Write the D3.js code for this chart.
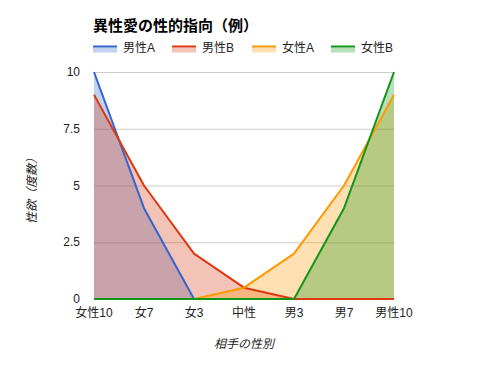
<!DOCTYPE html>
<html>
<head>
<meta charset="utf-8">
<script src="https://cdn.jsdelivr.net/npm/d3@7"></script>
<style>
  body { margin: 0; background: #fff; }
  text { font-family: Arial, "Liberation Sans", "Noto Sans CJK JP", sans-serif; }
</style>
</head>
<body>
<div id="chart-area"></div>
<script>
// data
var categories = ['女性10', '女7', '女3', '中性', '男3', '男7', '男性10'];
var seriesNames = ['男性A', '男性B', '女性A', '女性B'];
var maleA = [10, 4, 0, 0, 0, 0, 0];
var maleB = [9, 5, 2, 0.5, 0, 0, 0];
var femaleA = [0, 0, 0, 0.5, 2, 5, 9];
var femaleB = [0, 0, 0, 0, 0, 4, 10];
var yTicks = [0, 2.5, 5, 7.5, 10];

var colors = ['#3366cc', '#dc3912', '#ff9900', '#109618'];
var allSeries = [maleA, maleB, femaleA, femaleB];

var def = {
    width: 488,
    height: 371,
    left: 94,
    right: 394,
    top: 72,
    bottom: 299
}

var svg = d3.select('#chart-area').append('svg')
    .attr('width', def.width)
    .attr('height', def.height);

var x = d3.scalePoint()
    .domain(categories)
    .range([def.left, def.right]);

var y = d3.scaleLinear()
    .domain([0, 10])
    .range([def.bottom, def.top]);

// gridlines
svg.append('g').selectAll('line')
    .data(yTicks)
    .enter().append('line')
    .attr('x1', def.left).attr('x2', def.right)
    .attr('y1', d => y(d) + 0.5).attr('y2', d => y(d) + 0.5)
    .attr('stroke', '#cccccc').attr('stroke-width', 1);

// y labels
svg.append('g').selectAll('text')
    .data(yTicks)
    .enter().append('text')
    .attr('x', 80)
    .attr('y', d => y(d) + 4)
    .attr('text-anchor', 'end')
    .attr('font-size', '12px')
    .attr('fill', '#222')
    .text(d => d);

// x labels
svg.append('g').selectAll('text')
    .data(categories)
    .enter().append('text')
    .attr('x', d => x(d))
    .attr('y', 317)
    .attr('text-anchor', 'middle')
    .attr('font-size', '12px')
    .attr('fill', '#222')
    .text(d => d);

var area = d3.area()
    .x((d, i) => x(categories[i]))
    .y0(y(0))
    .y1(d => y(d));

var line = d3.line()
    .x((d, i) => x(categories[i]))
    .y(d => y(d));

// areas then lines
svg.append('g').selectAll('path')
    .data(allSeries)
    .enter().append('path')
    .attr('d', area)
    .attr('fill', (d, i) => colors[i])
    .attr('fill-opacity', 0.3);

svg.append('g').selectAll('path')
    .data(allSeries)
    .enter().append('path')
    .attr('d', line)
    .attr('fill', 'none')
    .attr('stroke', (d, i) => colors[i])
    .attr('stroke-width', 2)
    .attr('stroke-linejoin', 'round');

// title
svg.append('text')
    .attr('x', 93)
    .attr('y', 31)
    .attr('font-size', '15px')
    .attr('font-weight', 'bold')
    .attr('fill', '#000')
    .text('異性愛の性的指向（例）');

// legend
var legX = [93, 172, 252, 331];
var leg = svg.append('g').selectAll('g')
    .data(seriesNames)
    .enter().append('g')
    .attr('transform', (d, i) => 'translate(' + legX[i] + ',0)');
leg.append('rect')
    .attr('x', 0).attr('y', 47.5).attr('width', 24).attr('height', 5)
    .attr('fill', (d, i) => colors[i]).attr('fill-opacity', 0.3);
leg.append('rect')
    .attr('x', 0).attr('y', 45.5).attr('width', 24).attr('height', 2)
    .attr('fill', (d, i) => colors[i]);
leg.append('text')
    .attr('x', 30).attr('y', 52)
    .attr('font-size', '12px')
    .attr('fill', '#222')
    .text(d => d);

// axis titles
svg.append('text')
    .attr('x', 244).attr('y', 348)
    .attr('text-anchor', 'middle')
    .attr('font-size', '12px')
    .attr('font-style', 'italic')
    .attr('fill', '#222')
    .text('相手の性別');

svg.append('text')
    .attr('transform', 'translate(36,188) rotate(-90)')
    .attr('text-anchor', 'middle')
    .attr('font-size', '12px')
    .attr('font-style', 'italic')
    .attr('fill', '#222')
    .text('性欲（度数）');
</script>
</body>
</html>
